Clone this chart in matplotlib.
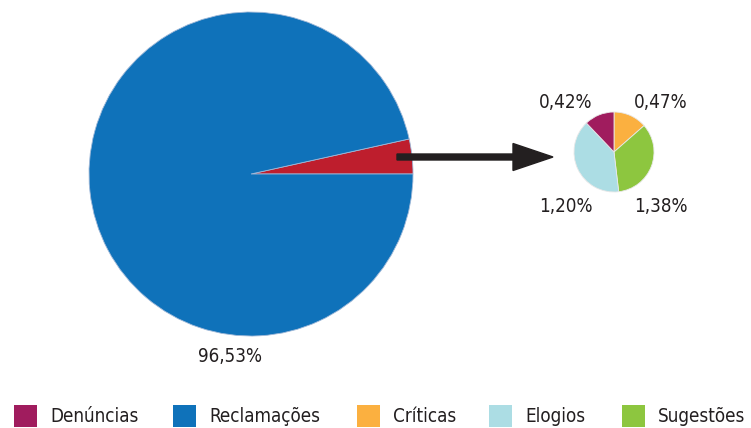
import matplotlib.pyplot as plt
from matplotlib.patches import Rectangle

plt.rcParams['font.family'] = ['DejaVu Sans']
plt.rcParams['font.stretch'] = 'condensed'

# data
categories = ['Denúncias', 'Reclamações', 'Críticas', 'Elogios', 'Sugestões']
shares = [0.42, 96.53, 0.47, 1.20, 1.38]
colors = ['#A01C5E', '#0F72BA', '#FBB040', '#ACDDE4', '#8DC63F']
other_color = '#BE1E2D'

# small pie as drawn in the source (clockwise from top), wedge sizes
small_order = ['Críticas', 'Sugestões', 'Elogios', 'Denúncias']
small_slices = [0.47, 1.20, 1.38, 0.42]

W, H = 751, 428
fig = plt.figure(figsize=(W / 100, H / 100), dpi=100)
ax = fig.add_axes([0, 0, 1, 1])

def fmt(v):
    return f'{v:.2f}%'.replace('.', ',')

# big pie: reclamações vs. the rest
rest = sum(v for c, v in zip(categories, shares) if c != 'Reclamações')
recl = shares[categories.index('Reclamações')]
ax.pie([rest, recl], colors=[other_color, colors[1]], startangle=0,
       counterclock=True, center=(251, H - 174), radius=162,
       wedgeprops=dict(linewidth=0.6, edgecolor='#9fb8d8'))

# small pie: breakdown of the rest
small_cols = [colors[categories.index(c)] for c in small_order]
ax.pie(small_slices, colors=small_cols, startangle=90, counterclock=False,
       center=(614, H - 152), radius=40,
       wedgeprops=dict(linewidth=0.6, edgecolor='#e8e8e8'))

ax.set_xlim(0, W)
ax.set_ylim(0, H)
ax.set_aspect('equal')
ax.axis('off')

# arrow
ax.arrow(397, H - 157, 156, 0, width=6, head_width=27, head_length=40,
         length_includes_head=True, color='#231F20', capstyle='round')

# labels
tk = dict(fontsize=13.5, color='#231F20', ha='center', va='center')
ax.text(230, H - 357, fmt(recl), **tk)
ax.text(566, H - 102, fmt(shares[categories.index('Denúncias')]), **tk)
ax.text(661, H - 102, fmt(shares[categories.index('Críticas')]), **tk)
ax.text(566, H - 206, fmt(shares[categories.index('Elogios')]), **tk)
ax.text(661, H - 206, fmt(shares[categories.index('Sugestões')]), **tk)

# legend
box_x = [14, 173, 357, 489, 622]
for x, name, col in zip(box_x, categories, colors):
    ax.add_patch(Rectangle((x, H - 427), 23, 22, color=col, lw=0))
    ax.text(x + 36, H - 416, name, fontsize=13.5, color='#231F20',
            ha='left', va='center')

fig.savefig('out.png', dpi=100)
